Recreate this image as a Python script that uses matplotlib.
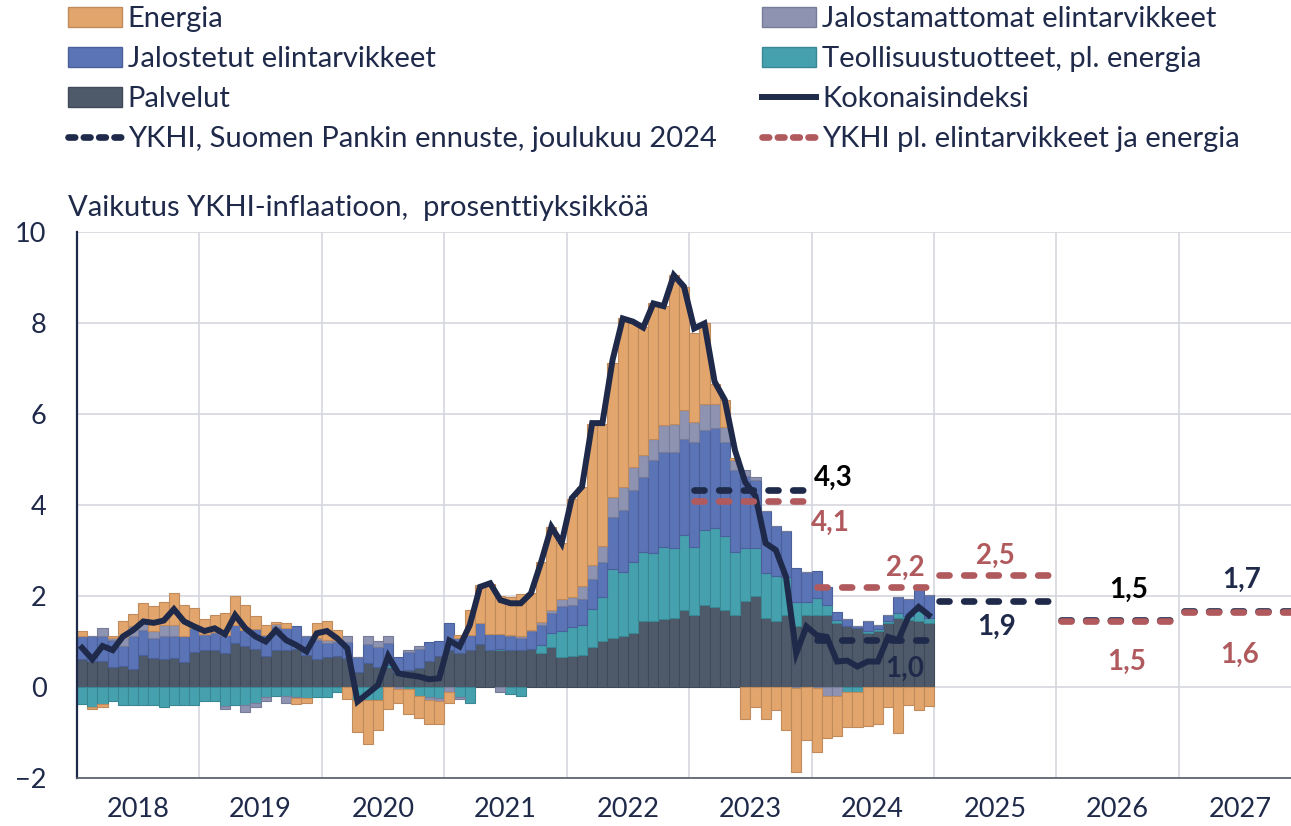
import numpy as np
import matplotlib.pyplot as plt
from matplotlib.patches import Patch
from matplotlib.lines import Line2D

plt.rcParams['font.family'] = ['Lato', 'DejaVu Sans']

# Vuodet (x-akselin nimiöt) ja kuukausittaiset kontribuutiot 1/2018 - 12/2024
vuodet = [2018, 2019, 2020, 2021, 2022, 2023, 2024, 2025, 2026, 2027]

palvelut = [
    0.61, 0.57, 0.57, 0.43, 0.46, 0.40, 0.70, 0.63, 0.61, 0.63, 0.56, 0.78,
    0.81, 0.81, 0.74, 0.97, 0.90, 0.83, 0.68, 0.81, 0.81, 0.83, 0.70, 0.61,
    0.65, 0.68, 0.63, 0.32, 0.53, 0.45, 0.45, 0.34, 0.37, 0.42, 0.58, 0.68,
    0.81, 0.75, 0.81, 0.95, 0.81, 0.81, 0.81, 0.81, 0.83, 0.75, 0.87, 0.65,
    0.68, 0.70, 0.87, 1.01, 1.08, 1.12, 1.18, 1.45, 1.45, 1.49, 1.51, 1.69,
    1.58, 1.80, 1.75, 1.69, 1.58, 1.88, 2.00, 1.51, 1.44, 1.58, 1.33, 1.58,
    1.58, 1.58, 1.40, 1.34, 1.29, 1.18, 1.24, 1.40, 1.51, 1.47, 1.44, 1.41]
teollisuus = [
    -0.37, -0.43, -0.37, -0.30, -0.40, -0.40, -0.40, -0.40, -0.43, -0.40, -0.40, -0.40,
    -0.30, -0.30, -0.42, -0.40, -0.40, -0.35, -0.23, -0.20, -0.20, -0.23, -0.25, -0.23,
    -0.23, -0.12, 0.00, -0.29, -0.28, -0.29, 0.04, 0.00, -0.05, -0.20, -0.22, -0.25,
    0.00, -0.21, -0.36, 0.00, 0.00, 0.02, -0.15, -0.20, 0.00, 0.17, 0.31, 0.58,
    0.63, 0.67, 0.84, 0.97, 1.52, 1.41, 1.56, 1.52, 1.49, 1.58, 1.54, 1.65,
    1.50, 1.65, 1.74, 1.63, 1.39, 1.17, 1.05, 0.99, 0.99, 0.84, 0.53, 0.29,
    0.37, 0.22, 0.07, -0.10, -0.10, 0.06, 0.04, 0.04, 0.12, 0.09, 0.22, 0.10]
jalostetut = [
    0.52, 0.56, 0.56, 0.60, 0.44, 0.71, 0.55, 0.44, 0.50, 0.48, 0.55, 0.51,
    0.33, 0.37, 0.40, 0.39, 0.35, 0.44, 0.46, 0.51, 0.49, 0.50, 0.42, 0.42,
    0.32, 0.31, 0.37, 0.34, 0.41, 0.44, 0.48, 0.31, 0.40, 0.42, 0.42, 0.34,
    0.59, 0.32, 0.33, 0.45, 0.35, 0.33, 0.31, 0.26, 0.39, 0.44, 0.45, 0.55,
    0.49, 0.57, 0.67, 0.77, 1.14, 1.36, 1.59, 1.65, 2.05, 2.10, 2.12, 2.10,
    2.30, 2.20, 2.20, 2.06, 1.80, 1.58, 1.50, 1.36, 1.10, 1.00, 0.75, 0.66,
    0.59, 0.40, 0.18, 0.15, 0.05, 0.20, 0.08, 0.14, 0.34, 0.37, 0.48, 0.51]
jalostamattomat = [
    0.00, 0.00, 0.16, 0.04, 0.20, 0.22, 0.15, 0.15, 0.26, 0.26, 0.00, 0.00,
    0.03, 0.03, -0.06, 0.00, -0.14, -0.08, -0.08, 0.07, -0.16, -0.02, 0.00, 0.05,
    0.07, 0.04, 0.12, 0.00, 0.18, 0.13, 0.15, -0.05, 0.05, 0.07, -0.06, -0.05,
    -0.10, -0.06, 0.00, 0.00, 0.00, -0.10, 0.03, 0.05, 0.04, 0.07, 0.07, 0.15,
    0.18, 0.28, 0.31, 0.35, 0.44, 0.51, 0.51, 0.48, 0.45, 0.59, 0.62, 0.64,
    0.45, 0.57, 0.52, 0.34, 0.22, 0.15, 0.07, 0.00, 0.00, 0.00, -0.02, 0.00,
    -0.02, -0.20, -0.20, 0.00, 0.00, 0.00, 0.00, 0.00, 0.00, 0.00, 0.07, 0.00]
energia = [
    0.09, -0.06, -0.06, 0.04, 0.35, 0.27, 0.44, 0.55, 0.49, 0.70, 0.70, 0.44,
    0.32, 0.37, 0.49, 0.64, 0.55, 0.28, 0.22, 0.04, 0.10, -0.13, -0.10, 0.32,
    0.41, 0.22, -0.27, -0.69, -0.97, -0.66, -0.49, -0.30, -0.55, -0.48, -0.53, -0.51,
    -0.26, 0.07, 0.55, 0.84, 1.10, 0.83, 0.83, 0.92, 0.80, 1.32, 1.82, 1.23,
    2.16, 2.18, 3.10, 2.69, 2.94, 3.70, 3.19, 2.81, 2.99, 2.61, 3.26, 2.71,
    1.95, 1.77, 0.45, 0.59, 0.04, -0.70, -0.43, -0.71, -0.50, -0.95, -1.84, -1.16,
    -1.41, -0.91, -0.88, -0.77, -0.77, -0.86, -0.81, -0.45, -1.00, -0.40, -0.50, -0.42]
kokonaisindeksi = [
    0.86, 0.61, 0.90, 0.81, 1.11, 1.25, 1.44, 1.41, 1.46, 1.71, 1.44, 1.33,
    1.23, 1.29, 1.16, 1.58, 1.29, 1.11, 1.00, 1.25, 1.03, 0.92, 0.78, 1.18,
    1.23, 1.07, 0.85, -0.32, -0.14, 0.04, 0.68, 0.30, 0.26, 0.23, 0.17, 0.19,
    1.02, 0.89, 1.36, 2.20, 2.28, 1.91, 1.84, 1.84, 2.06, 2.75, 3.52, 3.16,
    4.15, 4.40, 5.80, 5.80, 7.19, 8.10, 8.03, 7.90, 8.43, 8.37, 9.05, 8.80,
    7.88, 7.99, 6.71, 6.31, 5.20, 4.50, 4.20, 3.16, 3.01, 2.42, 0.74, 1.33,
    1.14, 1.10, 0.56, 0.58, 0.45, 0.56, 0.56, 1.10, 1.03, 1.55, 1.76, 1.58]

# Vuosittaiset ennusteet
ennuste_vuodet = [2023, 2024, 2025, 2026, 2027]
ykhi_ennuste = [4.32, 1.03, 1.89, 1.47, 1.66]
ykhi_pohja = [4.09, 2.20, 2.46, 1.46, 1.64]

navy = '#1F2A4A'
punainen = '#B05A5E'

sarjat = [
    ('Palvelut', palvelut, '#4E5A6A', '#3F4957'),
    ('Teollisuustuotteet, pl. energia', teollisuus, '#46A1AF', '#3A8794'),
    ('Jalostetut elintarvikkeet', jalostetut, '#5B74B6', '#4A609A'),
    ('Jalostamattomat elintarvikkeet', jalostamattomat, '#8E93B2', '#777C99'),
    ('Energia', energia, '#E2A56C', '#BF8B5C'),
]

fig = plt.figure(figsize=(12.91, 8.26), dpi=100)
ax = fig.add_axes([77 / 1291, 48 / 826, 1 - 77 / 1291, 546 / 826])

x = np.arange(len(palvelut)) + 0.5
pos_pohja = np.zeros(len(x))
neg_pohja = np.zeros(len(x))
for nimi, arvot, vari, reuna in sarjat:
    v = np.array(arvot)
    pohja = np.where(v >= 0, pos_pohja, neg_pohja)
    ax.bar(x, v, width=1.0, bottom=pohja, color=vari,
           edgecolor=reuna, linewidth=0.8, zorder=2)
    pos_pohja += np.where(v >= 0, v, 0)
    neg_pohja += np.where(v < 0, v, 0)

ax.plot(x, kokonaisindeksi, color=navy, linewidth=4.3, zorder=4,
        solid_joinstyle='miter')

# Ennusteviivat vuosittain
for vuosi, a, b in zip(ennuste_vuodet, ykhi_ennuste, ykhi_pohja):
    alku = (vuosi - 2018) * 12
    xx = [alku + 0.5, alku + 11.5]
    ax.plot(xx, [a, a], color=navy, linewidth=4.8, dashes=(1.5, 2.2),
            dash_capstyle='round', zorder=5)
    ax.plot(xx, [b, b], color=punainen, linewidth=4.8, dashes=(1.5, 2.2),
            dash_capstyle='round', zorder=6)

def fmt(v):
    return f'{v:.1f}'.replace('.', ',')

# Arvojen nimiöt
nimiot = [
    (74.1, 4.60, ykhi_ennuste[0], 'black'),
    (73.8, 3.60, ykhi_pohja[0], punainen),
    (81.2, 2.61, ykhi_pohja[1], punainen),
    (81.1, 0.40, ykhi_ennuste[1], navy),
    (90.0, 2.89, ykhi_pohja[2], punainen),
    (90.1, 1.32, ykhi_ennuste[2], navy),
    (103.1, 2.13, ykhi_ennuste[3], 'black'),
    (102.9, 0.56, ykhi_pohja[3], punainen),
    (114.2, 2.35, ykhi_ennuste[4], navy),
    (114.0, 0.71, ykhi_pohja[4], punainen),
]
for xi, yi, v, c in nimiot:
    ax.text(xi, yi, fmt(v), color=c, fontsize=20, fontweight='bold',
            ha='center', va='center', zorder=7)

ax.set_xlim(0, 119)
ax.set_ylim(-2, 10)
ax.set_yticks(range(-2, 11, 2))
ax.set_xticks(range(0, 120, 12))
ax.set_xticklabels([])
ax.set_xticks(np.arange(6, 120, 12), minor=True)
ax.set_xticklabels([str(v) for v in vuodet], minor=True)
ax.tick_params(axis='both', which='both', length=0, labelsize=19.5,
               labelcolor=navy)
ax.tick_params(axis='y', pad=22)
ax.tick_params(axis='x', which='minor', pad=14)
ax.grid(True, which='major', color='#D5D6DE', linewidth=1.2, zorder=0)
ax.set_axisbelow(True)
for s in ['top', 'right']:
    ax.spines[s].set_visible(False)
ax.spines['left'].set_color(navy)
ax.spines['left'].set_linewidth(1.6)
ax.spines['bottom'].set_color('#555a66')
ax.spines['bottom'].set_linewidth(1.2)

fig.text(68 / 1291, 1 - 208 / 826, 'Vaikutus YKHI-inflaatioon,  prosenttiyksikköä',
         fontsize=21, color=navy, va='center', ha='left')

# Selite kahdessa sarakkeessa
def laatikko(vari, reuna):
    return Patch(facecolor=vari, edgecolor=reuna, linewidth=1.0)

kahvat = [
    laatikko('#E2A56C', '#BF8B5C'),
    laatikko('#5B74B6', '#4A609A'),
    laatikko('#4E5A6A', '#3F4957'),
    Line2D([], [], color=navy, linewidth=4.8, dashes=(1.0, 1.3), dash_capstyle='round'),
    laatikko('#8E93B2', '#777C99'),
    laatikko('#46A1AF', '#3A8794'),
    Line2D([], [], color=navy, linewidth=4.3),
    Line2D([], [], color=punainen, linewidth=4.8, dashes=(1.0, 1.3), dash_capstyle='round'),
]
tekstit = [
    'Energia', 'Jalostetut elintarvikkeet', 'Palvelut',
    'YKHI, Suomen Pankin ennuste, joulukuu 2024',
    'Jalostamattomat elintarvikkeet', 'Teollisuustuotteet, pl. energia',
    'Kokonaisindeksi', 'YKHI pl. elintarvikkeet ja energia',
]
fig.legend(kahvat, tekstit, loc='upper left', bbox_to_anchor=(68 / 1291, 1 - 6 / 826),
           ncol=2, frameon=False, fontsize=21, labelcolor=navy,
           handlelength=1.85, handleheight=0.7, handletextpad=0.2,
           columnspacing=1.57, labelspacing=0.48, borderpad=0, borderaxespad=0)

fig.savefig('out.png', dpi=100)
